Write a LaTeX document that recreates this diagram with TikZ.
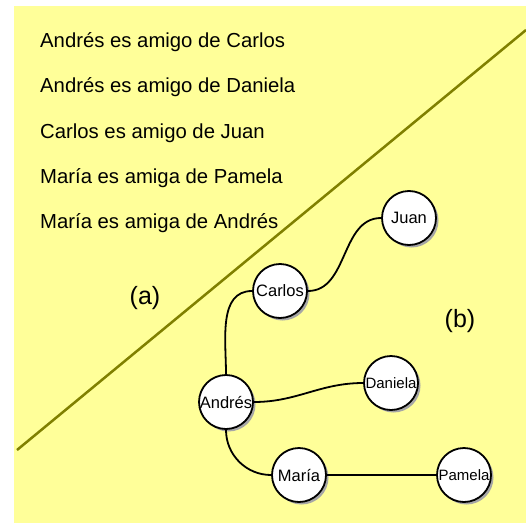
\documentclass[tikz,border=0pt]{standalone}
\usepackage{fontspec}
\setmainfont{Liberation Sans}
\usetikzlibrary{shadows}

\definecolor{notebg}{HTML}{FFFF99}
\definecolor{divider}{HTML}{808000}

\tikzset{
  friend/.style={circle, draw, line width=1.8pt, fill=white,
    minimum size=54pt, inner sep=0pt,
    font=\fontsize{16.5}{19}\selectfont,
    drop shadow={shadow xshift=2.5pt, shadow yshift=-2.5pt, fill=black!35, opacity=1}},
  link/.style={line width=1.8pt},
  fact/.style={anchor=base west, inner sep=0pt, font=\fontsize{20.3}{24}\selectfont},
  part/.style={anchor=base, inner sep=0pt, font=\fontsize{25}{29}\selectfont},
}

\begin{document}
\begin{tikzpicture}[x=1pt,y=1pt]

    \useasboundingbox (0,0) rectangle (526,523);

    % Background
    \fill[notebg] (14,0) rectangle (526,517);

    % Dividing line
    \draw[divider, line width=2.5pt] (17,73) -- (526,493);

    % (a) list of facts
    \node[fact] (f1) at (40,475.3) {Andrés es amigo de Carlos};
    \node[fact] (f2) at (40,430.1) {Andrés es amigo de Daniela};
    \node[fact] (f3) at (40,384.9) {Carlos es amigo de Juan};
    \node[fact] (f4) at (40,339.7) {María es amiga de Pamela};
    \node[fact] (f5) at (40,294.5) {María es amiga de Andrés};
    \node[part] (pa) at (145,219) {(a)};

    % (b) graph
    \node[friend] (juan) at (409,305) {Juan};
    \node[friend] (carlos) at (280,232) {Carlos};
    \node[friend] (andres) at (226,121) {Andrés};
    \node[friend, font=\fontsize{15}{17}\selectfont] (daniela) at (391,140) {Daniela};
    \node[friend] (maria) at (299,48) {María};
    \node[friend, font=\fontsize{15}{17}\selectfont] (pamela) at (464,48) {Pamela};
    \node[part] (pb) at (460,196) {(b)};

    % Friendships
    \draw[link] (carlos.east) to[out=0,in=180] (juan.west);
    \draw[link] (carlos.west) to[out=180,in=90] (andres.north);
    \draw[link] (andres.east) to[out=0,in=180] (daniela.west);
    \draw[link] (andres.south) to[out=-90,in=180] (maria.west);
    \draw[link] (maria) -- (pamela);

\end{tikzpicture}
\end{document}
